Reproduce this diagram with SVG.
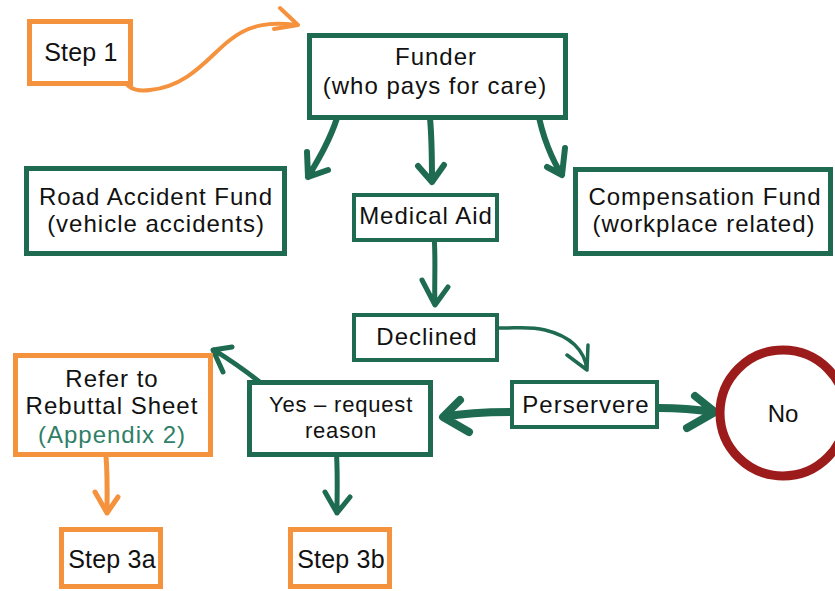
<svg xmlns="http://www.w3.org/2000/svg" width="835" height="591" viewBox="0 0 835 591">
<style>
.bg{fill:#ffffff}
.g{fill:#ffffff;stroke:#1F6B52;stroke-width:5}
.o{fill:#ffffff;stroke:#F5923E;stroke-width:5}
.t{font-family:"Liberation Sans",Arial,sans-serif;font-size:24px;letter-spacing:1px;fill:#111111;text-anchor:middle}
.s{font-size:25px;letter-spacing:0.2px}
.ag{fill:none;stroke:#1F6B52;stroke-linecap:round;stroke-linejoin:round}
.ao{fill:none;stroke:#F5923E;stroke-linecap:round;stroke-linejoin:round}
</style>
<rect class="bg" x="0" y="0" width="835" height="591"/>
<g id="connectors">
  <path class="ao" stroke-width="4" d="M123,75 C125,88 135,92 150,90 C190,86 210,55 230,40 C250,24 270,22 296,25 M280,8 L298,25 L274,29"/>
  <path class="ag" stroke-width="6" d="M337,118 C330,140 318,160 308,177 M307,152 L308,177 L328,170"/>
  <path class="ag" stroke-width="6" d="M430,118 C432,140 432,160 432,182 M418,166 L432,182 L444,165"/>
  <path class="ag" stroke-width="6" d="M538,112 C542,135 552,160 562,175 M547,167 L562,175 L565,148"/>
  <path class="ag" stroke-width="5" d="M434,235 C436,260 434,285 435,305 M422,280 L435,305 L448,287"/>
  <path class="ag" stroke-width="3.5" d="M484,327 C510,330 525,325 545,330 C570,336 585,350 587,370 M567,355 L587,370 L588,345"/>
  <path class="ag" stroke-width="8" d="M659,408 C680,408 700,410 713,412 M695,396 L715,412 L687,428"/>
  <path class="ag" stroke-width="8" d="M510,412 C485,412 465,413 444,417 M460,400 L443,417 L469,432"/>
  <path class="ag" stroke-width="5" d="M262,384 C245,370 230,360 214,350 M232,347 L213,350 L223,372"/>
  <path class="ag" stroke-width="5" d="M336,446 C338,470 337,490 337,513 M325,492 L337,513 L350,497"/>
  <path class="ao" stroke-width="5" d="M105,445 C108,470 107,490 107,513 M95,492 L107,513 L118,497"/>
</g>
<g id="step1">
  <rect class="o" x="29.5" y="21.5" width="101" height="62"/>
  <text class="t s" x="81" y="61">Step 1</text>
</g>
<g id="funder">
  <rect class="g" x="309.5" y="35.5" width="256" height="82"/>
  <text class="t" x="436" y="65">Funder</text>
  <text class="t" x="435" y="94">(who pays for care)</text>
</g>
<g id="raf">
  <rect class="g" x="26.5" y="168.5" width="258" height="85"/>
  <text class="t" x="156" y="205">Road Accident Fund</text>
  <text class="t" x="156" y="232">(vehicle accidents)</text>
</g>
<g id="medical">
  <rect class="g" x="354" y="195" width="143" height="45" style="stroke-width:4"/>
  <text class="t" x="426" y="224">Medical Aid</text>
</g>
<g id="compensation">
  <rect class="g" x="575.5" y="169.5" width="255" height="84"/>
  <text class="t" x="705" y="205">Compensation Fund</text>
  <text class="t" x="704" y="232">(workplace related)</text>
</g>
<g id="declined">
  <rect class="g" x="354" y="315" width="143" height="45" style="stroke-width:4"/>
  <text class="t" x="427" y="345">Declined</text>
</g>
<g id="perservere">
  <rect class="g" x="512" y="382" width="145" height="45" style="stroke-width:4"/>
  <text class="t" x="586" y="413">Perservere</text>
</g>
<g id="no">
  <circle cx="783" cy="413" r="63" fill="#ffffff" stroke="#9C1C1C" stroke-width="9"/>
  <text class="t" x="783" y="422" style="letter-spacing:0">No</text>
</g>
<g id="yes">
  <rect class="g" x="249.5" y="382.5" width="181" height="72"/>
  <text class="t" x="341" y="412" style="font-size:22px;letter-spacing:0.8px">Yes – request</text>
  <text class="t" x="341" y="438" style="font-size:22px;letter-spacing:0.8px">reason</text>
</g>
<g id="refer">
  <rect class="o" x="15.5" y="355.5" width="195" height="99"/>
  <text class="t" x="112" y="387">Refer to</text>
  <text class="t" x="112" y="414">Rebuttal Sheet</text>
  <text class="t" x="112" y="443" style="fill:#2F7F68">(Appendix 2)</text>
</g>
<g id="step3a">
  <rect class="o" x="61.5" y="529.5" width="99" height="57"/>
  <text class="t s" x="112" y="568">Step 3a</text>
</g>
<g id="step3b">
  <rect class="o" x="290.5" y="529.5" width="99" height="57"/>
  <text class="t s" x="341" y="568">Step 3b</text>
</g>
</svg>
